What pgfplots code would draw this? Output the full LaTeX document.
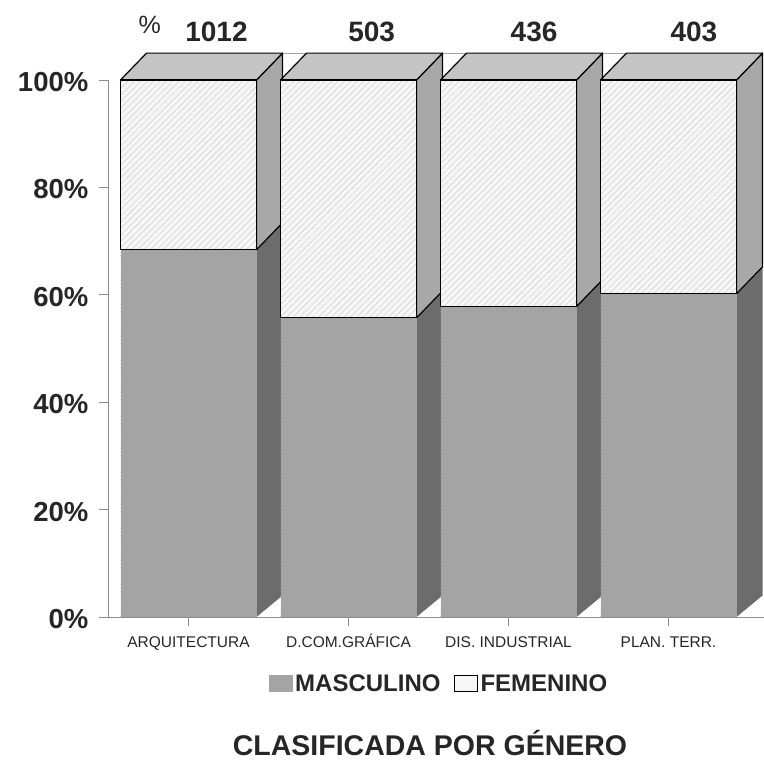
\documentclass[border=0pt]{standalone}
\usepackage{pgfplots}
\pgfplotsset{compat=1.18}
\usepackage{fontspec}
\setmainfont{Liberation Sans}
\usetikzlibrary{patterns.meta}
\definecolor{mascfrontc}{HTML}{A4A4A4}
\definecolor{mascsidec}{HTML}{6C6C6C}
\definecolor{femfrontc}{HTML}{F6F6F6}
\definecolor{femsidec}{HTML}{A8A8A8}
\definecolor{topc}{HTML}{C4C4C4}
\pgfplotsset{
  mascside/.style={fill=mascsidec, draw=none, mark=none},
  femside/.style={fill=femsidec, draw=black, line width=1.2bp, line join=round, mark=none},
  topface/.style={fill=topc, draw=black, line width=1.2bp, line join=round, mark=none},
  mascfrontst/.style={fill=mascfrontc, draw=none, mark=none,
    postaction={pattern={Lines[angle=0,distance=3.5bp,line width=0.4bp]}, pattern color=black!36}},
  femfrontst/.style={fill=femfrontc, draw=black, line width=1.2bp, line join=round, mark=none,
    postaction={pattern={Lines[angle=45,distance=4.5bp,line width=0.5bp]}, pattern color=black!20}},
}
% #1 = category position, #2 = MASCULINO share (%)
\newcommand{\drawbar}[2]{%
  \pgfmathsetmacro{\bL}{#1-0.425}%
  \pgfmathsetmacro{\bR}{#1+0.425}%
  \pgfmathsetmacro{\bRB}{#1+0.5875}%
  \pgfmathsetmacro{\bLB}{#1-0.2625}%
  \pgfmathsetmacro{\bMB}{#2+5}%
  \edef\tmpbar{%
    \noexpand\addplot[mascside, forget plot] coordinates {(\bR,0) (\bRB,4) (\bRB,\bMB) (\bR,#2)} -- cycle;
    \noexpand\addplot[femside, forget plot] coordinates {(\bR,#2) (\bRB,\bMB) (\bRB,105) (\bR,100)} -- cycle;
    \noexpand\addplot[topface, forget plot] coordinates {(\bL,100) (\bR,100) (\bRB,105) (\bLB,105)} -- cycle;
    \noexpand\addplot[mascfrontst, forget plot] coordinates {(\bL,0) (\bR,0) (\bR,#2) (\bL,#2)} -- cycle;
    \noexpand\addplot[femfrontst, forget plot] coordinates {(\bL,#2) (\bR,#2) (\bR,100) (\bL,100)} -- cycle;
  }\tmpbar}
\begin{document}
\begin{tikzpicture}
\useasboundingbox (0bp,0bp) rectangle (764bp,763bp);
\begin{axis}[
  at={(108.5bp,146bp)}, anchor=south west,
  width=656bp, height=563.85bp, scale only axis,
  xmin=-0.5, xmax=3.6, ymin=0, ymax=105,
  clip=false,
  axis x line*=bottom, axis y line*=left,
  axis line style={draw=black!45, line width=0.8bp},
  y axis line style={shorten >=26.85bp},
  tick align=outside, major tick length=9bp,
  tick style={draw=black!45, line width=0.8bp},
  ytick={0,20,40,60,80,100},
  yticklabels={0\%,20\%,40\%,60\%,80\%,100\%},
  yticklabel style={font=\fontsize{27.5bp}{32bp}\selectfont\bfseries, text=black!85, anchor=east, inner sep=0pt, xshift=-11bp, yshift=-2bp},
  xtick={0,1,2,3},
  xticklabels={ARQUITECTURA, D.COM.GRÁFICA, DIS. INDUSTRIAL, PLAN. TERR.},
  xticklabel style={font=\fontsize{15.5bp}{18bp}\selectfont, text=black!85, anchor=base, inner sep=0pt, yshift=-22bp},
  legend style={at={(0.5046,-0.118)}, anchor=center, draw=none, fill=none,
    legend columns=2, font=\fontsize{24bp}{28bp}\selectfont\bfseries, text=black!85,
    inner sep=0pt, nodes={inner xsep=3bp, inner ysep=0pt},
    /tikz/every even column/.append style={column sep=10bp}},
]
% back wall top edge
\addplot[black!35, line width=0.8bp, mark=none, forget plot] coordinates {(-0.2625,105) (3.5875,105)};
% bars: position, MASCULINO %
\drawbar{0}{68.4}
\drawbar{1}{55.7}
\drawbar{2}{57.8}
\drawbar{3}{60.2}
% totals on top
\addplot[draw=none, mark=none, forget plot, nodes near coords, point meta=explicit symbolic,
  every node near coord/.append style={anchor=base, inner sep=0pt, text=black!85, font=\fontsize{28bp}{32bp}\selectfont\bfseries}]
  coordinates {(0.175,107.1)[1012] (1.145,107.1)[503] (2.16,107.1)[436] (3.159,107.1)[403]};
\addplot[draw=none, mark=none, forget plot, nodes near coords, point meta=explicit symbolic,
  every node near coord/.append style={anchor=base, inner sep=0pt, text=black!85, font=\fontsize{25bp}{30bp}\selectfont}]
  coordinates {(-0.243,108.75)[\%]};
% legend
\addlegendimage{legend image code/.code={\fill[mascfrontc] (0bp,-8bp) rectangle (23bp,8bp);}}
\addlegendentry{MASCULINO}
\addlegendimage{legend image code/.code={\filldraw[fill=femfrontc, draw=black, line width=1bp] (0bp,-8bp) rectangle (23bp,8bp);}}
\addlegendentry{FEMENINO}
\end{axis}
\node[anchor=base, inner sep=0pt, text=black!85, font=\fontsize{28.5bp}{32bp}\selectfont\bfseries] at (430bp,8bp) {CLASIFICADA POR GÉNERO};
\end{tikzpicture}
\end{document}
